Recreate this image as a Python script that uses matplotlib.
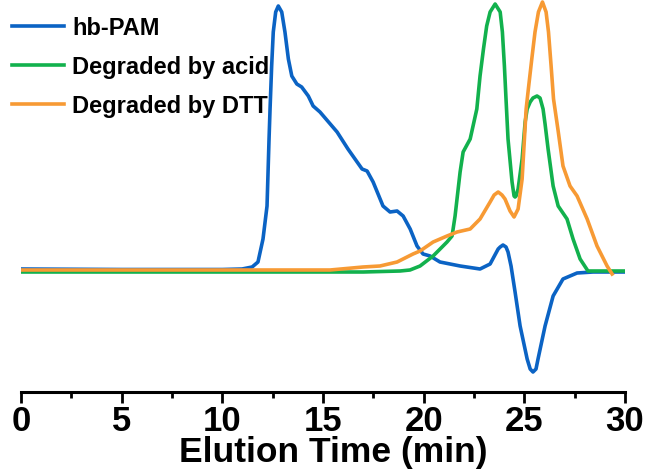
import matplotlib

matplotlib.use('Agg')
import matplotlib.pyplot as plt
from matplotlib.ticker import MultipleLocator

plt.rcParams['font.family'] = ['Liberation Sans', 'DejaVu Sans']
plt.rcParams['font.weight'] = 'bold'

# ============================================================
# 数据（读图估计，强度为任意单位，基线=0）
# ============================================================
# hb-PAM
t_pam = [0, 5, 10, 10.98, 11.48, 11.77, 12.02, 12.22, 12.32, 12.37, 12.45, 12.53, 12.65,
         12.78, 12.95, 13.11, 13.28, 13.45, 13.70, 13.94, 14.27, 14.51, 14.85, 15.70,
         16.24, 16.59, 16.94, 17.19, 17.49, 17.98, 18.33, 18.68, 18.98, 19.33, 19.67,
         19.97, 20.32, 20.81, 21.81, 22.80, 23.30, 23.70, 23.80, 23.94, 24.09, 24.19,
         24.34, 24.54, 24.79, 25.14, 25.29, 25.43, 25.58, 25.68, 26.03, 26.43, 26.92,
         27.62, 28.42, 30.0]
y_pam = [2, 1.5, 1.5, 2, 4, 9, 32, 65, 132, 162, 205, 239, 259,
         265, 259, 239, 212, 195, 187, 184, 175, 165, 159, 139,
         122, 112, 102, 100, 89, 65, 59, 60, 55, 42, 25,
         17, 15, 9, 5, 2, 7, 22, 24, 26, 24, 19,
         5, -21, -55, -88, -98, -101, -98, -88, -55, -25, -8,
         -2, -1, -1]

# Degraded by acid
t_acid = [0, 5, 10, 15, 17, 18.83, 19.32, 19.82, 20.47, 21.16, 21.41, 21.56, 21.81,
          21.96, 22.31, 22.64, 22.80, 22.97, 23.13, 23.30, 23.55, 23.80, 23.91, 24.01,
          24.09, 24.19, 24.39, 24.49, 24.54, 24.59, 24.69, 24.89, 25.04, 25.14, 25.29,
          25.43, 25.63, 25.78, 25.93, 26.03, 26.18, 26.43, 26.68, 27.12, 27.42, 27.77,
          28.16, 30.0]
y_acid = [-1, -1, -1, -1, -1, 0, 1, 5, 15, 29, 35, 55, 99,
          119, 132, 162, 195, 222, 245, 259, 267, 259, 239, 205,
          172, 132, 89, 75, 74, 75, 82, 112, 149, 162, 169,
          173, 175, 173, 162, 147, 122, 85, 65, 52, 32, 12,
          0, 0]

# Degraded by DTT
t_dtt = [0, 5, 10, 15.35, 16.99, 17.83, 18.68, 19.47, 19.82, 20.47, 21.16, 21.66,
         22.31, 22.80, 23.30, 23.50, 23.70, 23.89, 24.04, 24.29, 24.49, 24.69, 24.89,
         25.09, 25.20, 25.37, 25.53, 25.70, 25.90, 26.08, 26.20, 26.33, 26.45, 26.68,
         26.92, 27.27, 27.62, 28.12, 28.61, 29.11, 29.36]
y_dtt = [1, 1, 1, 1, 4, 5, 9, 17, 20, 29, 35, 39,
         42, 52, 69, 76, 79, 76, 72, 60, 54, 62, 92,
         162, 182, 212, 239, 259, 269, 259, 239, 205, 172, 140,
         105, 85, 75, 52, 25, 5, -3]

labels = ['hb-PAM', 'Degraded by acid', 'Degraded by DTT']
colors = ['#0b63c4', '#12b14d', '#f79a34']

# ============================================================
# 绘图
# ============================================================
fig = plt.figure(figsize=(6.48, 4.77), dpi=100)
ax = fig.add_axes([21 / 648, 84 / 477, 604 / 648, 393 / 477])

for t, y, lab, c in zip([t_pam, t_acid, t_dtt], [y_pam, y_acid, y_dtt], labels, colors):
    ax.plot(t, y, color=c, lw=2.6, label=lab, solid_joinstyle='round')

ax.set_xlim(0, 30)
ax.set_ylim(-121, 272)
ax.xaxis.set_major_locator(MultipleLocator(5))
ax.xaxis.set_minor_locator(MultipleLocator(2.5))
ax.tick_params(axis='x', which='major', length=8, width=2, labelsize=25, pad=1)
ax.tick_params(axis='x', which='minor', length=4, width=2)
ax.set_yticks([])
for s in ['left', 'right', 'top']:
    ax.spines[s].set_visible(False)
ax.spines['bottom'].set_linewidth(2.2)
ax.set_xlabel('Elution Time (min)', fontsize=25.5, fontweight='bold')
ax.xaxis.set_label_coords(0.517, -0.11)

ax.legend(loc='upper left', bbox_to_anchor=(12 / 648, 1 - 17 / 477),
          bbox_transform=fig.transFigure, frameon=False, fontsize=17,
          handlelength=2.2, handletextpad=0.35, labelspacing=0.68,
          borderpad=0, borderaxespad=0)

plt.savefig('out.png', dpi=100, facecolor='white')
plt.close()
